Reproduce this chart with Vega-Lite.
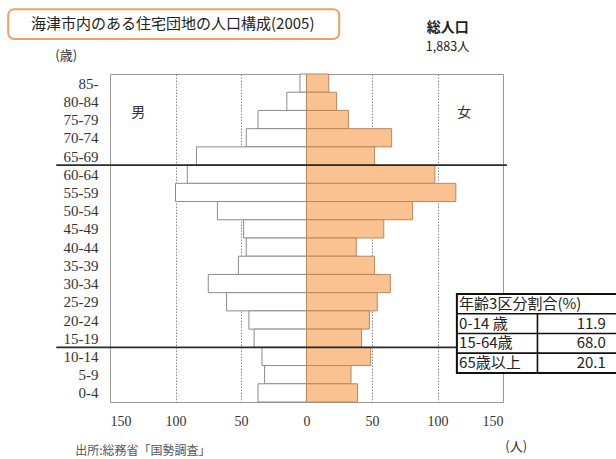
{
  "$schema": "https://vega.github.io/schema/vega-lite/v6.json",
  "width": 393,
  "height": 328,
  "autosize": {"type": "none"},
  "padding": {"left": 110, "top": 74, "right": 113, "bottom": 57},
  "background": "white",
  "config": {
    "view": {"stroke": "#9a9a9a", "strokeWidth": 1},
    "font": "Noto Sans CJK JP"
  },
  "datasets": {
    "pyramid": [
      {"age": "85-", "lo": 85, "hi": 90, "male": 5, "female": 17},
      {"age": "80-84", "lo": 80, "hi": 85, "male": 15, "female": 23},
      {"age": "75-79", "lo": 75, "hi": 80, "male": 37, "female": 32},
      {"age": "70-74", "lo": 70, "hi": 75, "male": 46, "female": 65},
      {"age": "65-69", "lo": 65, "hi": 70, "male": 84, "female": 52},
      {"age": "60-64", "lo": 60, "hi": 65, "male": 91, "female": 98},
      {"age": "55-59", "lo": 55, "hi": 60, "male": 100, "female": 114},
      {"age": "50-54", "lo": 50, "hi": 55, "male": 68, "female": 81},
      {"age": "45-49", "lo": 45, "hi": 50, "male": 48, "female": 59},
      {"age": "40-44", "lo": 40, "hi": 45, "male": 46, "female": 38},
      {"age": "35-39", "lo": 35, "hi": 40, "male": 52, "female": 52},
      {"age": "30-34", "lo": 30, "hi": 35, "male": 75, "female": 64},
      {"age": "25-29", "lo": 25, "hi": 30, "male": 61, "female": 54},
      {"age": "20-24", "lo": 20, "hi": 25, "male": 44, "female": 48},
      {"age": "15-19", "lo": 15, "hi": 20, "male": 40, "female": 42},
      {"age": "10-14", "lo": 10, "hi": 15, "male": 34, "female": 49},
      {"age": "5-9", "lo": 5, "hi": 10, "male": 32, "female": 34},
      {"age": "0-4", "lo": 0, "hi": 5, "male": 37, "female": 39}
    ],
    "boundaries": [{"boundary_age": 65}, {"boundary_age": 15}],
    "one": [{}]
  },
  "layer": [
    {
      "data": {"name": "pyramid"},
      "transform": [{"calculate": "-datum.male", "as": "male_left"}],
      "mark": {"type": "rect", "fill": "white", "stroke": "#8c8c8c", "strokeWidth": 1},
      "encoding": {
        "x": {
          "field": "male_left", "type": "quantitative",
          "scale": {"domain": [-150, 150], "nice": false, "zero": false},
          "axis": {
            "values": [-150, -100, -50, 0, 50, 100, 150],
            "tickCount": 50,
            "labelExpr": "abs(datum.value)",
            "title": null, "ticks": false, "domain": false,
            "grid": true, "gridColor": "#8a8a8a", "gridDash": [1.5, 1.5], "gridWidth": 1,
            "gridOpacity": {"condition": {"test": "abs(datum.value) == 150 || datum.value == 0", "value": 0}, "value": 1},
            "labelFont": "Liberation Serif", "labelFontSize": 14, "labelColor": "#333333",
            "labelPadding": 12, "labelOverlap": false
          }
        },
        "x2": {"datum": 0},
        "y": {
          "field": "lo", "type": "quantitative",
          "scale": {"domain": [0, 90], "nice": false, "zero": false},
          "axis": {
            "values": [2.5, 7.5, 12.5, 17.5, 22.5, 27.5, 32.5, 37.5, 42.5, 47.5, 52.5, 57.5, 62.5, 67.5, 72.5, 77.5, 82.5, 87.5],
            "tickCount": 50,
            "labelExpr": "datum.value > 85 ? '85-' : (floor(datum.value / 5) * 5) + '-' + (floor(datum.value / 5) * 5 + 4)",
            "title": null, "ticks": false, "domain": false, "grid": false,
            "labelFont": "Liberation Serif", "labelFontSize": 15, "labelColor": "#333333",
            "labelPadding": 12, "labelOverlap": false, "labelFlush": false
          }
        },
        "y2": {"field": "hi"}
      }
    },
    {
      "data": {"name": "pyramid"},
      "mark": {"type": "rect", "fill": "#FAC191", "stroke": "#B8895F", "strokeWidth": 1},
      "encoding": {
        "x": {"field": "female", "type": "quantitative"},
        "x2": {"datum": 0},
        "y": {"field": "lo", "type": "quantitative"},
        "y2": {"field": "hi"}
      }
    },
    {
      "data": {"name": "boundaries"},
      "mark": {"type": "rule", "color": "#2a2a2a", "strokeWidth": 1.6},
      "encoding": {
        "y": {"field": "boundary_age", "type": "quantitative"},
        "x": {"datum": -191},
        "x2": {"datum": 153}
      }
    },
    {
      "data": {"name": "one"},
      "mark": {"type": "rect", "fill": "white", "stroke": "#F0A060", "strokeWidth": 2, "cornerRadius": 6},
      "encoding": {
        "x": {"datum": -227.7}, "x2": {"datum": 25},
        "y": {"datum": 99.6}, "y2": {"datum": 107.8}
      }
    },
    {
      "data": {"name": "one"},
      "mark": {"type": "text", "fontSize": 15, "color": "#222222", "align": "center", "baseline": "middle"},
      "encoding": {
        "x": {"datum": -102.1}, "y": {"datum": 103.7},
        "text": {"value": "海津市内のある住宅団地の人口構成(2005)"}
      }
    },
    {
      "data": {"name": "one"},
      "mark": {"type": "text", "fontSize": 14, "fontWeight": "bold", "color": "#222222", "align": "center", "baseline": "middle"},
      "encoding": {
        "x": {"datum": 107.8}, "y": {"datum": 102.6},
        "text": {"value": "総人口"}
      }
    },
    {
      "data": {"name": "one"},
      "mark": {"type": "text", "fontSize": 12.5, "color": "#222222", "align": "center", "baseline": "middle"},
      "encoding": {
        "x": {"datum": 107.8}, "y": {"datum": 97.5},
        "text": {"value": "1,883人"}
      }
    },
    {
      "data": {"name": "one"},
      "mark": {"type": "text", "fontSize": 13, "color": "#333333", "align": "center", "baseline": "middle"},
      "encoding": {
        "x": {"datum": -183.4}, "y": {"datum": 94.9},
        "text": {"value": "(歳)"}
      }
    },
    {
      "data": {"name": "one"},
      "mark": {"type": "text", "fontSize": 14, "color": "#333333", "align": "center", "baseline": "middle"},
      "encoding": {
        "x": {"datum": -128.5}, "y": {"datum": 79.4},
        "text": {"value": "男"}
      }
    },
    {
      "data": {"name": "one"},
      "mark": {"type": "text", "fontSize": 14, "color": "#333333", "align": "center", "baseline": "middle"},
      "encoding": {
        "x": {"datum": 120.4}, "y": {"datum": 79.3},
        "text": {"value": "女"}
      }
    },
    {
      "data": {"name": "one"},
      "mark": {"type": "text", "fontSize": 13, "color": "#333333", "align": "center", "baseline": "middle"},
      "encoding": {
        "x": {"datum": 160.1}, "y": {"datum": -12.4},
        "text": {"value": "(人)"}
      }
    },
    {
      "data": {"name": "one"},
      "mark": {"type": "text", "fontSize": 12, "color": "#555555", "align": "left", "baseline": "middle"},
      "encoding": {
        "x": {"datum": -176.6}, "y": {"datum": -13.5},
        "text": {"value": "出所:総務省「国勢調査」"}
      }
    },
    {
      "data": {"name": "one"},
      "mark": {"type": "rect", "fill": "white", "stroke": "#111111", "strokeWidth": 2},
      "encoding": {
        "x": {"datum": 114.8}, "x2": {"datum": 240},
        "y": {"datum": 7.95}, "y2": {"datum": 29.6}
      }
    },
    {
      "data": {"name": "one"},
      "mark": {"type": "rule", "color": "#111111", "strokeWidth": 1.6},
      "encoding": {"x": {"datum": 114.8}, "x2": {"datum": 240}, "y": {"datum": 24.2}}
    },
    {
      "data": {"name": "one"},
      "mark": {"type": "rule", "color": "#111111", "strokeWidth": 1.6},
      "encoding": {"x": {"datum": 114.8}, "x2": {"datum": 240}, "y": {"datum": 18.8}}
    },
    {
      "data": {"name": "one"},
      "mark": {"type": "rule", "color": "#111111", "strokeWidth": 1.6},
      "encoding": {"x": {"datum": 114.8}, "x2": {"datum": 240}, "y": {"datum": 13.4}}
    },
    {
      "data": {"name": "one"},
      "mark": {"type": "rule", "color": "#111111", "strokeWidth": 1.6},
      "encoding": {"x": {"datum": 176.3}, "y": {"datum": 7.95}, "y2": {"datum": 24.2}}
    },
    {
      "data": {"name": "one"},
      "mark": {"type": "text", "fontSize": 15, "color": "#222222", "align": "left", "baseline": "middle"},
      "encoding": {"x": {"datum": 116.5}, "y": {"datum": 26.9}, "text": {"value": "年齢3区分割合(%)"}}
    },
    {
      "data": {"name": "one"},
      "mark": {"type": "text", "fontSize": 15, "color": "#222222", "align": "left", "baseline": "middle"},
      "encoding": {"x": {"datum": 116.5}, "y": {"datum": 21.5}, "text": {"value": "0-14 歳"}}
    },
    {
      "data": {"name": "one"},
      "mark": {"type": "text", "fontSize": 15, "color": "#222222", "align": "left", "baseline": "middle"},
      "encoding": {"x": {"datum": 116.5}, "y": {"datum": 16.1}, "text": {"value": "15-64歳"}}
    },
    {
      "data": {"name": "one"},
      "mark": {"type": "text", "fontSize": 15, "color": "#222222", "align": "left", "baseline": "middle"},
      "encoding": {"x": {"datum": 116.5}, "y": {"datum": 10.8}, "text": {"value": "65歳以上"}}
    },
    {
      "data": {"name": "one"},
      "mark": {"type": "text", "fontSize": 15, "color": "#222222", "align": "right", "baseline": "middle"},
      "encoding": {"x": {"datum": 228.5}, "y": {"datum": 21.5}, "text": {"value": "11.9"}}
    },
    {
      "data": {"name": "one"},
      "mark": {"type": "text", "fontSize": 15, "color": "#222222", "align": "right", "baseline": "middle"},
      "encoding": {"x": {"datum": 228.5}, "y": {"datum": 16.1}, "text": {"value": "68.0"}}
    },
    {
      "data": {"name": "one"},
      "mark": {"type": "text", "fontSize": 15, "color": "#222222", "align": "right", "baseline": "middle"},
      "encoding": {"x": {"datum": 228.5}, "y": {"datum": 10.8}, "text": {"value": "20.1"}}
    }
  ]
}
